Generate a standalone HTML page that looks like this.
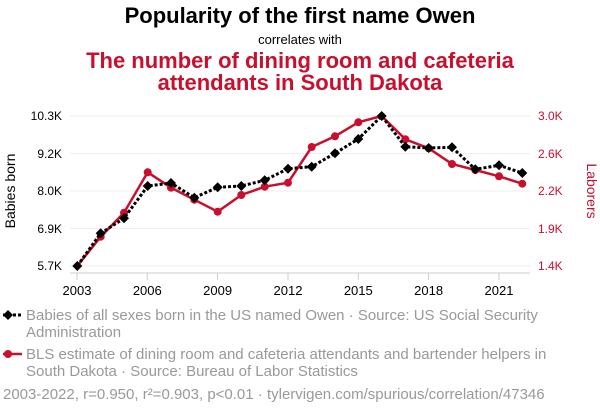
<!DOCTYPE html>
<html><head><meta charset="utf-8"><style>
body{margin:0;background:#fff;width:600px;height:414px;overflow:hidden;font-family:"Liberation Sans",sans-serif}
</style></head><body>
<svg width="600" height="414" xmlns="http://www.w3.org/2000/svg" font-family="Liberation Sans, sans-serif">
<text x="300" y="23" text-anchor="middle" font-size="22" font-weight="bold" fill="#000">Popularity of the first name Owen</text>
<text x="300" y="44" text-anchor="middle" font-size="13" fill="#000">correlates with</text>
<text x="300" y="68" text-anchor="middle" font-size="22" font-weight="bold" fill="#c8102e">The number of dining room and cafeteria</text>
<text x="300" y="90" text-anchor="middle" font-size="22" font-weight="bold" fill="#c8102e">attendants in South Dakota</text>
<g stroke="#eee" stroke-width="1">
<line x1="70" x2="530" y1="116" y2="116"/><line x1="70" x2="530" y1="153.5" y2="153.5"/><line x1="70" x2="530" y1="191" y2="191"/><line x1="70" x2="530" y1="228.5" y2="228.5"/><line x1="70" x2="530" y1="266" y2="266"/>
</g>
<line x1="70" x2="530" y1="273" y2="273" stroke="#ccc"/>
<g stroke="#ccc"><line x1="77" x2="77" y1="273" y2="280"/><line x1="147.3" x2="147.3" y1="273" y2="280"/><line x1="217.6" x2="217.6" y1="273" y2="280"/><line x1="288" x2="288" y1="273" y2="280"/><line x1="358.3" x2="358.3" y1="273" y2="280"/><line x1="428.6" x2="428.6" y1="273" y2="280"/><line x1="499" x2="499" y1="273" y2="280"/></g>
<g font-size="13" fill="#000" text-anchor="middle">
<text x="77" y="295">2003</text><text x="147.3" y="295">2006</text><text x="217.6" y="295">2009</text><text x="288" y="295">2012</text><text x="358.3" y="295">2015</text><text x="428.6" y="295">2018</text><text x="499" y="295">2021</text></g>
<g font-size="12" fill="#000" text-anchor="end">
<text x="62" y="120">10.3K</text><text x="62" y="158">9.2K</text><text x="62" y="195">8.0K</text><text x="62" y="233">6.9K</text><text x="62" y="270">5.7K</text></g>
<g font-size="12" fill="#c8102e" text-anchor="start">
<text x="538" y="120">3.0K</text><text x="538" y="158">2.6K</text><text x="538" y="195">2.2K</text><text x="538" y="233">1.9K</text><text x="538" y="270">1.4K</text></g>
<text transform="translate(15,191) rotate(-90)" text-anchor="middle" font-size="14" fill="#000">Babies born</text>
<text transform="translate(587,191) rotate(90)" text-anchor="middle" font-size="14" fill="#c8102e">Laborers</text>
<polyline fill="none" stroke="#c8102e" stroke-width="2.5" points="77.3,266 100.7,236.7 124,212.7 147.7,172.3 171,187.7 194.3,199.7 217.7,211.7 241.3,195 264.7,186.7 288,182.7 311.7,147 335,136.3 358.3,122.3 381.7,116 405.3,139.3 428.7,148.3 452,164 475.3,170 499,176.3 522.3,183.7"/>
<g fill="#c8102e">
<circle cx="100.7" cy="236.7" r="4"/><circle cx="124" cy="212.7" r="4"/><circle cx="147.7" cy="172.3" r="4"/><circle cx="171" cy="187.7" r="4"/><circle cx="194.3" cy="199.7" r="4"/><circle cx="217.7" cy="211.7" r="4"/><circle cx="241.3" cy="195" r="4"/><circle cx="264.7" cy="186.7" r="4"/><circle cx="288" cy="182.7" r="4"/><circle cx="311.7" cy="147" r="4"/><circle cx="335" cy="136.3" r="4"/><circle cx="358.3" cy="122.3" r="4"/><circle cx="405.3" cy="139.3" r="4"/><circle cx="428.7" cy="148.3" r="4"/><circle cx="452" cy="164" r="4"/><circle cx="475.3" cy="170" r="4"/><circle cx="499" cy="176.3" r="4"/><circle cx="522.3" cy="183.7" r="4"/></g>
<polyline fill="none" stroke="#000" stroke-width="3" stroke-dasharray="3,2" points="77.3,266 100.7,233.3 124,218.3 147.7,186 171,183 194.3,197.7 217.7,187.3 241.3,186 264.7,180.3 288,168.7 311.7,166.7 335,153.3 358.3,139 381.7,116 405.3,146.7 428.7,148 452,147.3 475.3,169.3 499,165.3 522.3,173"/>
<g fill="#000">
<path d="M77.3,261 l5,5 -5,5 -5,-5z"/><path d="M100.7,228.3 l5,5 -5,5 -5,-5z"/><path d="M124,213.3 l5,5 -5,5 -5,-5z"/><path d="M147.7,181 l5,5 -5,5 -5,-5z"/><path d="M171,178 l5,5 -5,5 -5,-5z"/><path d="M194.3,192.7 l5,5 -5,5 -5,-5z"/><path d="M217.7,182.3 l5,5 -5,5 -5,-5z"/><path d="M241.3,181 l5,5 -5,5 -5,-5z"/><path d="M264.7,175.3 l5,5 -5,5 -5,-5z"/><path d="M288,163.7 l5,5 -5,5 -5,-5z"/><path d="M311.7,161.7 l5,5 -5,5 -5,-5z"/><path d="M335,148.3 l5,5 -5,5 -5,-5z"/><path d="M358.3,134 l5,5 -5,5 -5,-5z"/><path d="M381.7,111 l5,5 -5,5 -5,-5z"/><path d="M405.3,141.7 l5,5 -5,5 -5,-5z"/><path d="M428.7,143 l5,5 -5,5 -5,-5z"/><path d="M452,142.3 l5,5 -5,5 -5,-5z"/><path d="M475.3,164.3 l5,5 -5,5 -5,-5z"/><path d="M499,160.3 l5,5 -5,5 -5,-5z"/><path d="M522.3,168 l5,5 -5,5 -5,-5z"/></g>
<line x1="3" x2="22" y1="315" y2="315" stroke="#000" stroke-width="3" stroke-dasharray="3,2"/>
<path d="M8,310 l5,5 -5,5 -5,-5z" fill="#000"/>
<text x="26" y="320" font-size="15" fill="#999">Babies of all sexes born in the US named Owen · Source: US Social Security</text>
<text x="26" y="337" font-size="15" fill="#999">Administration</text>
<line x1="3" x2="22" y1="354" y2="354" stroke="#c8102e" stroke-width="2.5"/>
<circle cx="8" cy="354" r="4" fill="#c8102e"/>
<text x="26" y="359" font-size="15" fill="#999">BLS estimate of dining room and cafeteria attendants and bartender helpers in</text>
<text x="26" y="376" font-size="15" fill="#999">South Dakota · Source: Bureau of Labor Statistics</text>
<text x="3" y="399" font-size="15" fill="#999">2003-2022, r=0.950, r²=0.903, p&lt;0.01 · tylervigen.com/spurious/correlation/47346</text>
</svg>
</body></html>
